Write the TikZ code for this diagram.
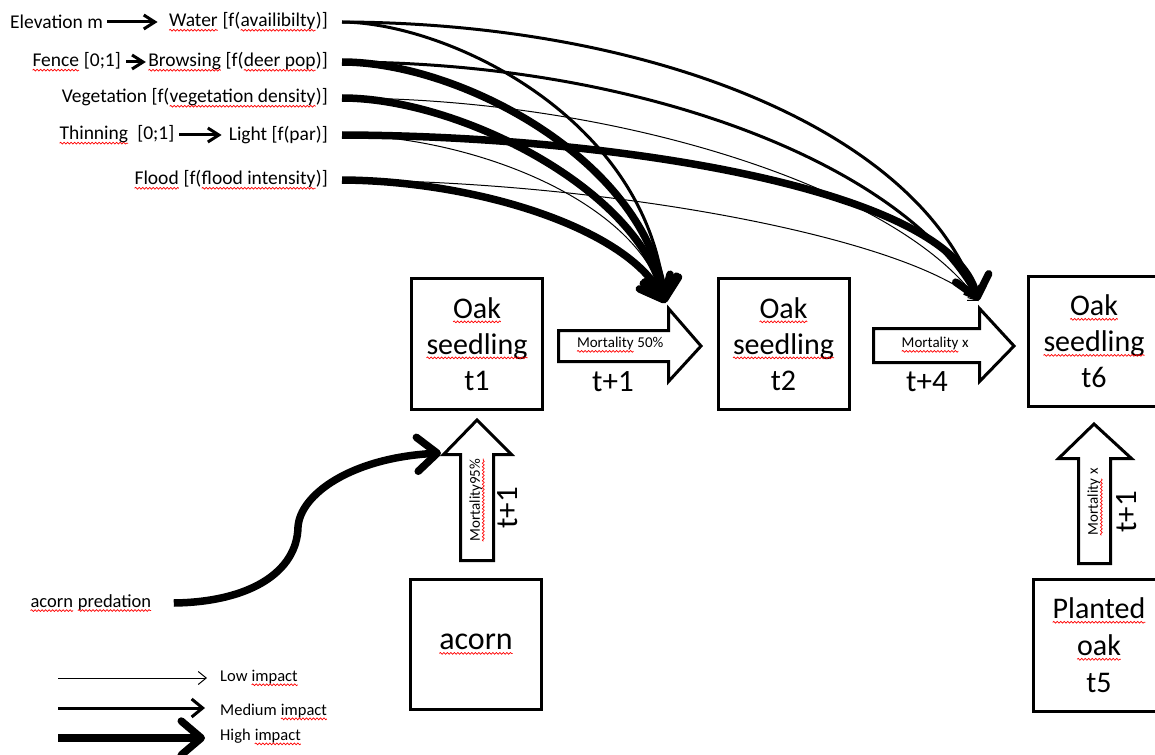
\documentclass[tikz,border=0pt]{standalone}
\usepackage{fontspec}
\setmainfont{Carlito}
\usetikzlibrary{arrows.meta,decorations.pathmorphing}
\newcommand\sq[1]{\tikz[baseline=(sqw.base)]{\node[inner sep=0pt,outer sep=0pt,minimum width=0pt,minimum height=0pt,anchor=center,draw=none,fill=none] (sqw) {#1};
  \draw[red, line width=0.7pt, decorate, decoration={snake, amplitude=0.9pt, segment length=3.5pt}] ([yshift=-3.5pt]sqw.base west) -- ([yshift=-3.5pt]sqw.base east);}}
\tikzset{
  lab/.style={inner sep=0pt, font=\fontsize{19.5}{23}\selectfont},
  oakbox/.style={draw, line width=3pt, minimum width=131pt, minimum height=131pt, align=center, inner sep=0pt, font=\fontsize{30}{36}\selectfont},
  blk/.style={draw, line width=3pt, line join=miter, fill=white},
  mort/.style={inner sep=0pt, font=\fontsize{15}{18}\selectfont},
  tlab/.style={inner sep=0pt, font=\fontsize{31}{36}\selectfont},
  leg/.style={inner sep=0pt, anchor=west, font=\fontsize{16.5}{20}\selectfont},
  lowimp/.style={line width=1pt, -{Straight Barb[length=8pt,width=13pt]}},
  medimp/.style={line width=3pt, -{Straight Barb[length=11pt,width=18pt]}},
  medsmall/.style={line width=3pt, -{Straight Barb[length=11pt,width=14pt]}},
  highimp/.style={line width=7.5pt, -{Straight Barb[length=20pt,width=34pt,round]}},
}
\begin{document}
\begin{tikzpicture}[x=1pt,y=-1pt]
\useasboundingbox (0,0) rectangle (1155,754);
\clip (0,0) rectangle (1155,754);

% factor labels
\node[lab,anchor=west] (elev) at (10,22) {Elevation m};
\node[lab,anchor=east] (water) at (328,22) {\sq{Water} [f(\sq{availibilty})]};
\node[lab,anchor=west] (fence) at (32,62) {\sq{Fence} [0;1]};
\node[lab,anchor=east] (brows) at (328,62) {\sq{Browsing} [f(\sq{deer pop})]};
\node[lab,anchor=east] (veg) at (328,98) {Vegetation [f(\sq{vegetation density})]};
\node[lab,anchor=west] (thin) at (59,135) {\sq{Thinning}\ \ [0;1]};
\node[lab,anchor=east] (light) at (328,135) {Light [f(par)]};
\node[lab,anchor=east] (flood) at (328,180) {\sq{Flood} [f(\sq{flood intensity})]};

\draw[medsmall] ([xshift=4]elev.east) -- ([xshift=-11]water.west);
\draw[medsmall] ([xshift=5]fence.east) -- ([xshift=-2]brows.west);
\draw[medsmall] ([xshift=5]thin.east) -- ([xshift=-7]light.west);

% boxes
\node[oakbox] (t1) at (477,344) {\sq{Oak}\\\sq{seedling}\\t1};
\node[oakbox] (t2) at (783.5,344) {\sq{Oak}\\\sq{seedling}\\t2};
\node[oakbox, minimum height=130pt] (t6) at (1094,341.5) {\sq{Oak}\\\sq{seedling}\\t6};
\node[oakbox, minimum height=130pt, font=\fontsize{32}{36}\selectfont] (acorn) at (476,644.5) {\sq{acorn}};
\node[oakbox, minimum height=132pt, font=\fontsize{30}{37}\selectfont] (planted) at (1099,645.5) {\sq{Planted}\\\sq{oak}\\t5};

% block arrows
\draw[blk] (558.5,330.5) -- (668.5,330.5) -- (668.5,308.5) -- (701,346) -- (668.5,381.5) -- (668.5,361.5) -- (558.5,361.5) -- cycle;
\node[mort] (m1) at (620,345) {\sq{Mortality} 50\%};
\node[tlab] (tp1) at (613,382) {t+1};

\draw[blk] (873.5,328.5) -- (979.5,328.5) -- (979.5,308.5) -- (1014,346) -- (979.5,381.5) -- (979.5,362.5) -- (873.5,362.5) -- cycle;
\node[mort] (m2) at (935,345) {\sq{Mortality} x};
\node[tlab] (tp4) at (927,382) {t+4};

\draw[blk] (460.5,560.5) -- (460.5,454.5) -- (443.5,454.5) -- (477,420) -- (511.5,454.5) -- (493.5,454.5) -- (493.5,560.5) -- cycle;
\node[mort, rotate=90] (m3) at (477,500) {\sq{Mortality95\%}};
\node[tlab, rotate=90] (tp5) at (508,508) {t+1};

\draw[blk] (1078.5,563.5) -- (1078.5,458.5) -- (1058.5,458.5) -- (1094,424) -- (1131.5,458.5) -- (1110.5,458.5) -- (1110.5,563.5) -- cycle;
\node[mort, rotate=90] (m4) at (1095,502) {\sq{Mortality} x};
\node[tlab, rotate=90] (tp6) at (1127,512) {t+1};

% targets
\coordinate (tA) at (665,303);
\coordinate (tB) at (978,301);

% thin
\draw[lowimp] ([xshift=14]veg.east) .. controls (620,98) and (900,190) .. (tB);
\draw[lowimp] ([xshift=14]light.east) .. controls (470,136) and (640,200) .. (tA);
\draw[lowimp] ([xshift=14]flood.east) .. controls (600,181) and (900,235) .. (tB);
% medium
\draw[medimp] ([xshift=14]water.east) .. controls (450,23) and (650,120) .. (tA);
\draw[medimp] ([xshift=14]water.east) .. controls (650,23) and (920,130) .. (tB);
\draw[medimp] ([xshift=14]brows.east) .. controls (650,62) and (910,170) .. (tB);
% high
\draw[highimp] ([xshift=14]brows.east) .. controls (460,62) and (645,160) .. (tA);
\draw[highimp] ([xshift=14]veg.east) .. controls (460,98) and (640,190) .. (tA);
\draw[highimp] ([xshift=14]flood.east) .. controls (480,181) and (630,230) .. (tA);
\draw[highimp] ([xshift=14]light.east) .. controls (620,136) and (950,190) .. (tB);

% acorn predation
\node[lab,anchor=west, font=\fontsize{18.5}{22}\selectfont] (pred) at (30,603) {\sq{acorn} \sq{predation}};
\coordinate (ptip) at (441,453);
\draw[highimp] ([xshift=22]pred.east) .. controls (250,602) and (297,572) .. (298,527) .. controls (300,495) and (350,458) .. (ptip);

% legend
\coordinate (l1a) at (58,678); \coordinate (l1b) at (207,678);
\coordinate (l2a) at (58,708); \coordinate (l2b) at (205,708);
\coordinate (l3a) at (58,738); \coordinate (l3b) at (205,738);
\draw[lowimp] (l1a) -- (l1b);
\draw[medimp] (l2a) -- (l2b);
\draw[highimp] (l3a) -- (l3b);
\node[leg] (low) at (220,678) {Low \sq{impact}};
\node[leg] (med) at (220,712) {Medium \sq{impact}};
\node[leg] (high) at (220,737) {High \sq{impact}};
\end{tikzpicture}
\end{document}
